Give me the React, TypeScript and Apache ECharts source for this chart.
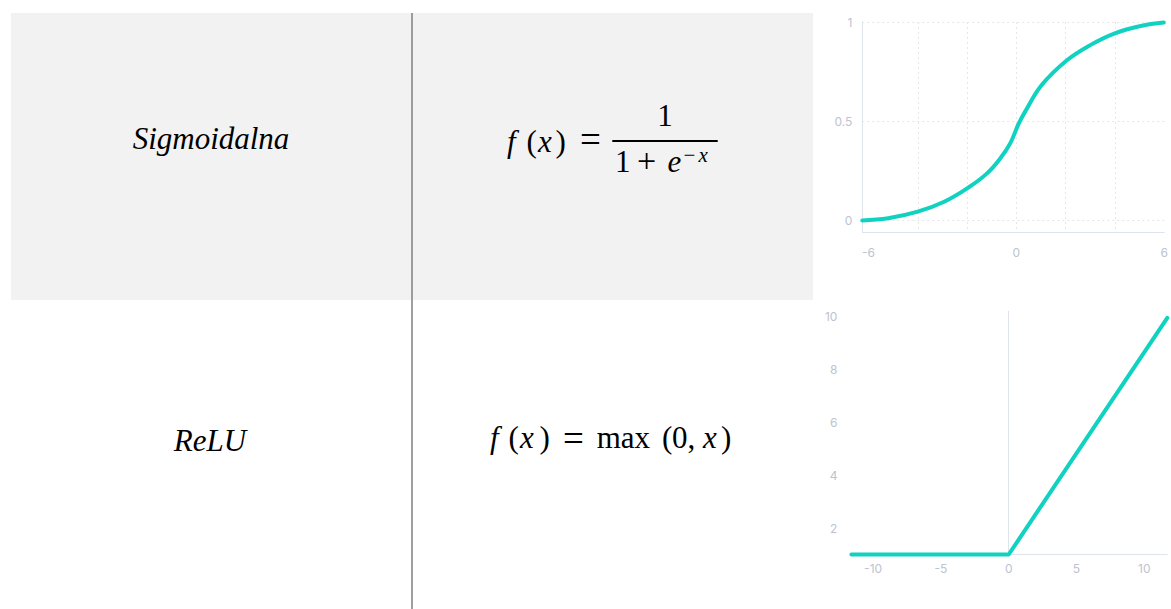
import React, { useEffect, useRef } from "react";
import * as echarts from "echarts";

// Sigmoid curve
const sigmoidX = [-6.25, -5.2, -4.0, -2.93, -1.93, -1.19, -0.65, -0.25, 0.08, 0.35, 1.02, 2.05, 3.03, 3.97, 5.04, 5.98];
const sigmoidY = [0, 0.011, 0.044, 0.094, 0.167, 0.237, 0.313, 0.388, 0.484, 0.547, 0.681, 0.807, 0.886, 0.942, 0.98, 0.997];
const sigmoidXLabels = [-6, 0, 6];
const sigmoidXGrid = [-4, -2, 0, 2, 4];
const sigmoidYLabels = [0, 0.5, 1];

// ReLU line
const reluX = [-11.6, 0, 11.7];
const reluY = [1, 1, 9.95];
const reluXLabels = [-10, -5, 0, 5, 10];
const reluYLabels = [2, 4, 6, 8, 10];

// Table texts
const rowNames = ["Sigmoidalna", "ReLU"];

const TEAL = "#10d2c0";
const LABEL = "#bcc3d0";
const AXIS = "#dfe3eb";
const GRIDLINE = "#e6e6e6";
const SERIF = "Liberation Serif";

function txt(text: string, x: number, y: number, size: number, italic: boolean, align: string = "left") {
  return {
    type: "text",
    x,
    y,
    silent: true,
    style: {
      text,
      fontSize: size,
      fontFamily: SERIF,
      fontStyle: italic ? "italic" : "normal",
      fill: "#000",
      align,
      verticalAlign: "middle",
      textAlign: align,
      textVerticalAlign: "middle",
    },
  };
}

export default function App() {
  const ref = useRef<HTMLDivElement>(null);

  useEffect(() => {
    if (!ref.current) return;
    const chart = echarts.init(ref.current, null, { renderer: "svg" });

    const FS = 31;
    const f1 = 141.2; // formula 1 middle line
    const f2 = 437.8; // formula 2 middle line
    const graphicEls: any[] = [
      { type: "rect", silent: true, shape: { x: 11, y: 13, width: 802, height: 287 }, style: { fill: "#f2f2f2" } },
      { type: "line", silent: true, shape: { x1: 412, y1: 13, x2: 412, y2: 609 }, style: { stroke: "#7f7f7f", lineWidth: 1.5 } },
      txt(rowNames[0], 211, 138.5, 31, true, "center"),
      txt(rowNames[1], 210, 440.5, 31, true, "center"),
      // formula 1
      txt("f", 507, f1, FS, true),
      txt("(", 526.5, f1, FS, false),
      txt("x", 538, f1, FS, true),
      txt(")", 555.5, f1, FS, false),
      txt("=", 590.5, 139.8, 37, false, "center"),
      { type: "rect", silent: true, shape: { x: 612.3, y: 140, width: 105.4, height: 2 }, style: { fill: "#000" } },
      txt("1", 665, 115.5, FS, false, "center"),
      txt("1", 615, 161.2, FS, false),
      txt("+", 646.7, 160.1, 34, false, "center"),
      txt("e", 667.5, 161.2, FS, true),
      txt("\u2212", 683.5, 154.6, 21, false),
      txt("x", 698.5, 154.6, 21, true),
      // formula 2
      txt("f", 490, f2, FS, true),
      txt("(", 508.5, f2, FS, false),
      txt("x", 520, f2, FS, true),
      txt(")", 539.5, f2, FS, false),
      txt("=", 573.5, 438.6, 37, false, "center"),
      txt("max", 596.7, f2, FS, false),
      txt("(", 662, f2, FS, false),
      txt("0", 672, f2, FS, false),
      txt(",", 687.5, f2, FS, false),
      txt("x", 703, f2, FS, true),
      txt(")", 721, f2, FS, false),
    ];

    const labelStyle = { color: LABEL, fontSize: 12, fontFamily: "Inter, sans-serif" };
    const dotted = { color: GRIDLINE, type: [2, 3], width: 1 };

    chart.setOption({
      animation: false,
      backgroundColor: "#ffffff",
      grid: [
        { left: 862.3, top: 22, width: 305.4, height: 210.3 },
        { left: 851.4, top: 311.2, width: 315.9, height: 243.3 },
      ],
      xAxis: [
        {
          type: "value",
          gridIndex: 0,
          min: -6.25,
          max: 6,
          axisLine: { show: true, onZero: false, lineStyle: { color: AXIS, width: 1 } },
          axisTick: { show: false, customValues: sigmoidXGrid },
          axisLabel: { ...labelStyle, margin: 14, customValues: sigmoidXLabels },
          splitLine: { show: true, lineStyle: dotted },
        },
        {
          type: "value",
          gridIndex: 1,
          min: -11.6,
          max: 11.7,
          axisLine: { show: true, lineStyle: { color: AXIS, width: 1 } },
          axisTick: { show: false },
          axisLabel: { ...labelStyle, margin: 8, customValues: reluXLabels },
          splitLine: { show: false },
        },
      ],
      yAxis: [
        {
          type: "value",
          gridIndex: 0,
          min: -0.06,
          max: 1,
          axisLine: { show: true, onZero: false, lineStyle: { color: AXIS, width: 1 } },
          axisTick: { show: false, customValues: sigmoidYLabels },
          axisLabel: { ...labelStyle, margin: 10, customValues: sigmoidYLabels },
          splitLine: { show: true, lineStyle: dotted },
        },
        {
          type: "value",
          gridIndex: 1,
          min: 1,
          max: 10.2,
          axisLine: { show: true, onZero: true, lineStyle: { color: AXIS, width: 1 } },
          axisTick: { show: false },
          axisLabel: { ...labelStyle, margin: 14, customValues: reluYLabels },
          splitLine: { show: false },
        },
      ],
      series: [
        {
          type: "line",
          xAxisIndex: 0,
          yAxisIndex: 0,
          data: sigmoidX.map((x, i) => [x, sigmoidY[i]]),
          showSymbol: false,
          symbol: "none",
          smooth: 0.4,
          clip: false,
          lineStyle: { color: TEAL, width: 4, cap: "round" },
        },
        {
          type: "line",
          xAxisIndex: 1,
          yAxisIndex: 1,
          data: reluX.map((x, i) => [x, reluY[i]]),
          showSymbol: false,
          symbol: "none",
          clip: false,
          lineStyle: { color: TEAL, width: 4, cap: "round", join: "round" },
        },
      ],
      graphic: { elements: graphicEls },
    });

    return () => chart.dispose();
  }, []);

  return (
    <div
      ref={ref}
      style={{ position: "fixed", left: 0, top: 0, width: 1171, height: 609 }}
    />
  );
}
